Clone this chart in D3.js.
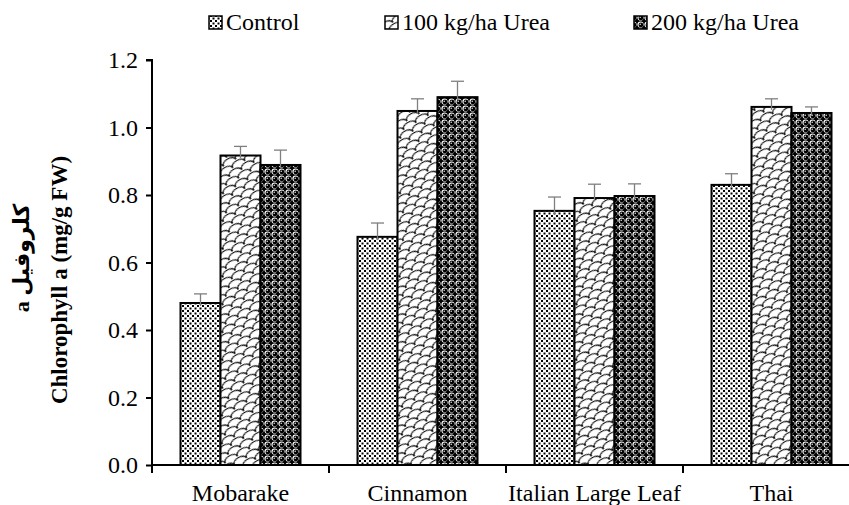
<!DOCTYPE html>
<html>
<head>
<meta charset="utf-8">
<script src="https://cdn.jsdelivr.net/npm/d3@7"></script>
<style>
  html, body { margin: 0; padding: 0; background: #fff; }
  svg { display: block; }
  text { font-family: "Liberation Serif", "Times New Roman", serif; fill: #000; }
</style>
</head>
<body>
<svg id="chart" width="849" height="505"></svg>
<script>
// ---- data ----
const categories = ["Mobarake", "Cinnamon", "Italian Large Leaf", "Thai"];
const seriesNames = ["Control", "100 kg/ha Urea", "200 kg/ha Urea"];
const controlValues = [0.48, 0.676, 0.753, 0.83];
const urea100Values = [0.917, 1.049, 0.791, 1.061];
const urea200Values = [0.889, 1.09, 0.797, 1.043];
const controlErr = [0.027, 0.041, 0.041, 0.033];
const urea100Err = [0.027, 0.036, 0.041, 0.024];
const urea200Err = [0.044, 0.047, 0.036, 0.018];
const yTicks = [0, 0.2, 0.4, 0.6, 0.8, 1.0, 1.2];
const yLabelEn = "Chlorophyll  a (mg/g FW)";
const yLabelFa = "کلروفیل a";

const seriesValues = [controlValues, urea100Values, urea200Values];
const seriesErr = [controlErr, urea100Err, urea200Err];
const patternIds = ["pControl", "p100", "p200"];

// ---- layout ----
const svg = d3.select("#chart");
const x0 = 152, bandW = 177, y0 = 465, yTop = 60;
const fs = "24px";

const x = d3.scaleBand().domain(categories).range([x0, x0 + bandW * categories.length]).padding(0);
const x1 = d3.scaleBand().domain(seriesNames).range([28.5, bandW - 28.5]).padding(0);
const y = d3.scaleLinear().domain([0, 1.2]).range([y0, yTop]);

// ---- patterns ----
const defs = svg.append("defs");
// Control: dense small dots
const pc = defs.append("pattern").attr("id", "pControl").attr("patternUnits", "userSpaceOnUse")
  .attr("width", 5).attr("height", 5);
pc.append("rect").attr("width", 5).attr("height", 5).attr("fill", "#fff");
[[0, 0], [2.5, 2.5]].forEach(([a, b]) => pc.append("rect").attr("x", a).attr("y", b).attr("width", 2).attr("height", 2).attr("fill", "#000"));

// 100: shingle / scales
const p1 = defs.append("pattern").attr("id", "p100").attr("patternUnits", "userSpaceOnUse")
  .attr("width", 14).attr("height", 12).attr("patternTransform", "rotate(-30)");
p1.append("rect").attr("x", -1).attr("y", -1).attr("width", 16).attr("height", 14).attr("fill", "#fff");
p1.append("path").attr("d", "M0,6 C0,0 14,0 14,6 M-7,12 C-7,6 7,6 7,12 M7,12 C7,6 21,6 21,12 M-7,0 C-7,-6 7,-6 7,0 M7,0 C7,-6 21,-6 21,0")
  .attr("fill", "none").attr("stroke", "#000").attr("stroke-width", 1.2);

// 200: spheres
const p2 = defs.append("pattern").attr("id", "p200").attr("patternUnits", "userSpaceOnUse")
  .attr("width", 7).attr("height", 7);
p2.append("rect").attr("width", 7).attr("height", 7).attr("fill", "#000");
p2.append("circle").attr("cx", 3.5).attr("cy", 3.5).attr("r", 3.1).attr("fill", "#fff");
p2.append("circle").attr("cx", 3.9).attr("cy", 3.9).attr("r", 2.4).attr("fill", "#000");
p2.append("circle").attr("cx", 3.2).attr("cy", 3.2).attr("r", 0.7).attr("fill", "#fff");

// ---- bars ----
const groups = svg.append("g").selectAll("g").data(categories).join("g")
  .attr("transform", d => `translate(${x(d)},0)`);

groups.each(function(cat, ci) {
  const g = d3.select(this);
  seriesNames.forEach((s, si) => {
    const v = seriesValues[si][ci];
    g.append("rect")
      .attr("x", x1(s)).attr("y", y(v))
      .attr("width", x1.bandwidth()).attr("height", y(0) - y(v))
      .attr("fill", `url(#${patternIds[si]})`)
      .attr("stroke", "#000").attr("stroke-width", 2);
  });
  seriesNames.forEach((s, si) => {
    const v = seriesValues[si][ci], e = seriesErr[si][ci];
    const cx = x1(s) + x1.bandwidth() / 2;
    g.append("line").attr("x1", cx).attr("x2", cx).attr("y1", y(v + e)).attr("y2", y(v) + 3)
      .attr("stroke", "#7f7f7f").attr("stroke-width", 1.3);
    g.append("line").attr("x1", cx - 6.5).attr("x2", cx + 6.5).attr("y1", y(v + e)).attr("y2", y(v + e))
      .attr("stroke", "#7f7f7f").attr("stroke-width", 1.3);
  });
});

// ---- axes ----
const yAxis = d3.axisLeft(y).tickValues(yTicks).tickFormat(d3.format(".1f")).tickSize(6).tickPadding(8);
const gy = svg.append("g").attr("transform", `translate(${x0},0)`).call(yAxis);
gy.select(".domain").attr("stroke", "#000").attr("stroke-width", 2).attr("d", `M-6,${yTop}H0V${y0}`);
gy.selectAll(".tick line").attr("stroke", "#000").attr("stroke-width", 2);
gy.selectAll(".tick text").style("font-size", fs).attr("fill", "#000");

const xAxisG = svg.append("g").attr("transform", `translate(0,${y0})`);
xAxisG.append("line").attr("x1", x0).attr("x2", 849).attr("y1", 0).attr("y2", 0)
  .attr("stroke", "#000").attr("stroke-width", 2);
categories.forEach(c => {
  xAxisG.append("line").attr("x1", x(c)).attr("x2", x(c)).attr("y1", 0).attr("y2", 8)
    .attr("stroke", "#000").attr("stroke-width", 2);
  xAxisG.append("text").attr("x", x(c) + bandW / 2).attr("y", 36).attr("text-anchor", "middle")
    .style("font-size", fs).text(c);
});

// ---- y labels ----
svg.append("text").attr("transform", "translate(67,280) rotate(-90)").attr("text-anchor", "middle")
  .style("font-size", "23px").style("font-weight", "bold").text(yLabelEn);
svg.append("text").attr("transform", "translate(29,258) rotate(-90)").attr("text-anchor", "middle")
  .style("font-size", "22px").style("font-weight", "bold").style("direction", "rtl")
  .style("font-family", "'Liberation Serif', 'DejaVu Sans', serif").text(yLabelFa);

// ---- legend ----
const legendX = [209, 385, 634];
const legend = svg.append("g");
seriesNames.forEach((s, i) => {
  legend.append("rect").attr("x", legendX[i]).attr("y", 16).attr("width", 13).attr("height", 13)
    .attr("fill", `url(#${patternIds[i]})`).attr("stroke", "#000").attr("stroke-width", 1.5);
  legend.append("text").attr("x", legendX[i] + 17).attr("y", 30).style("font-size", fs).text(s);
});
</script>
</body>
</html>
